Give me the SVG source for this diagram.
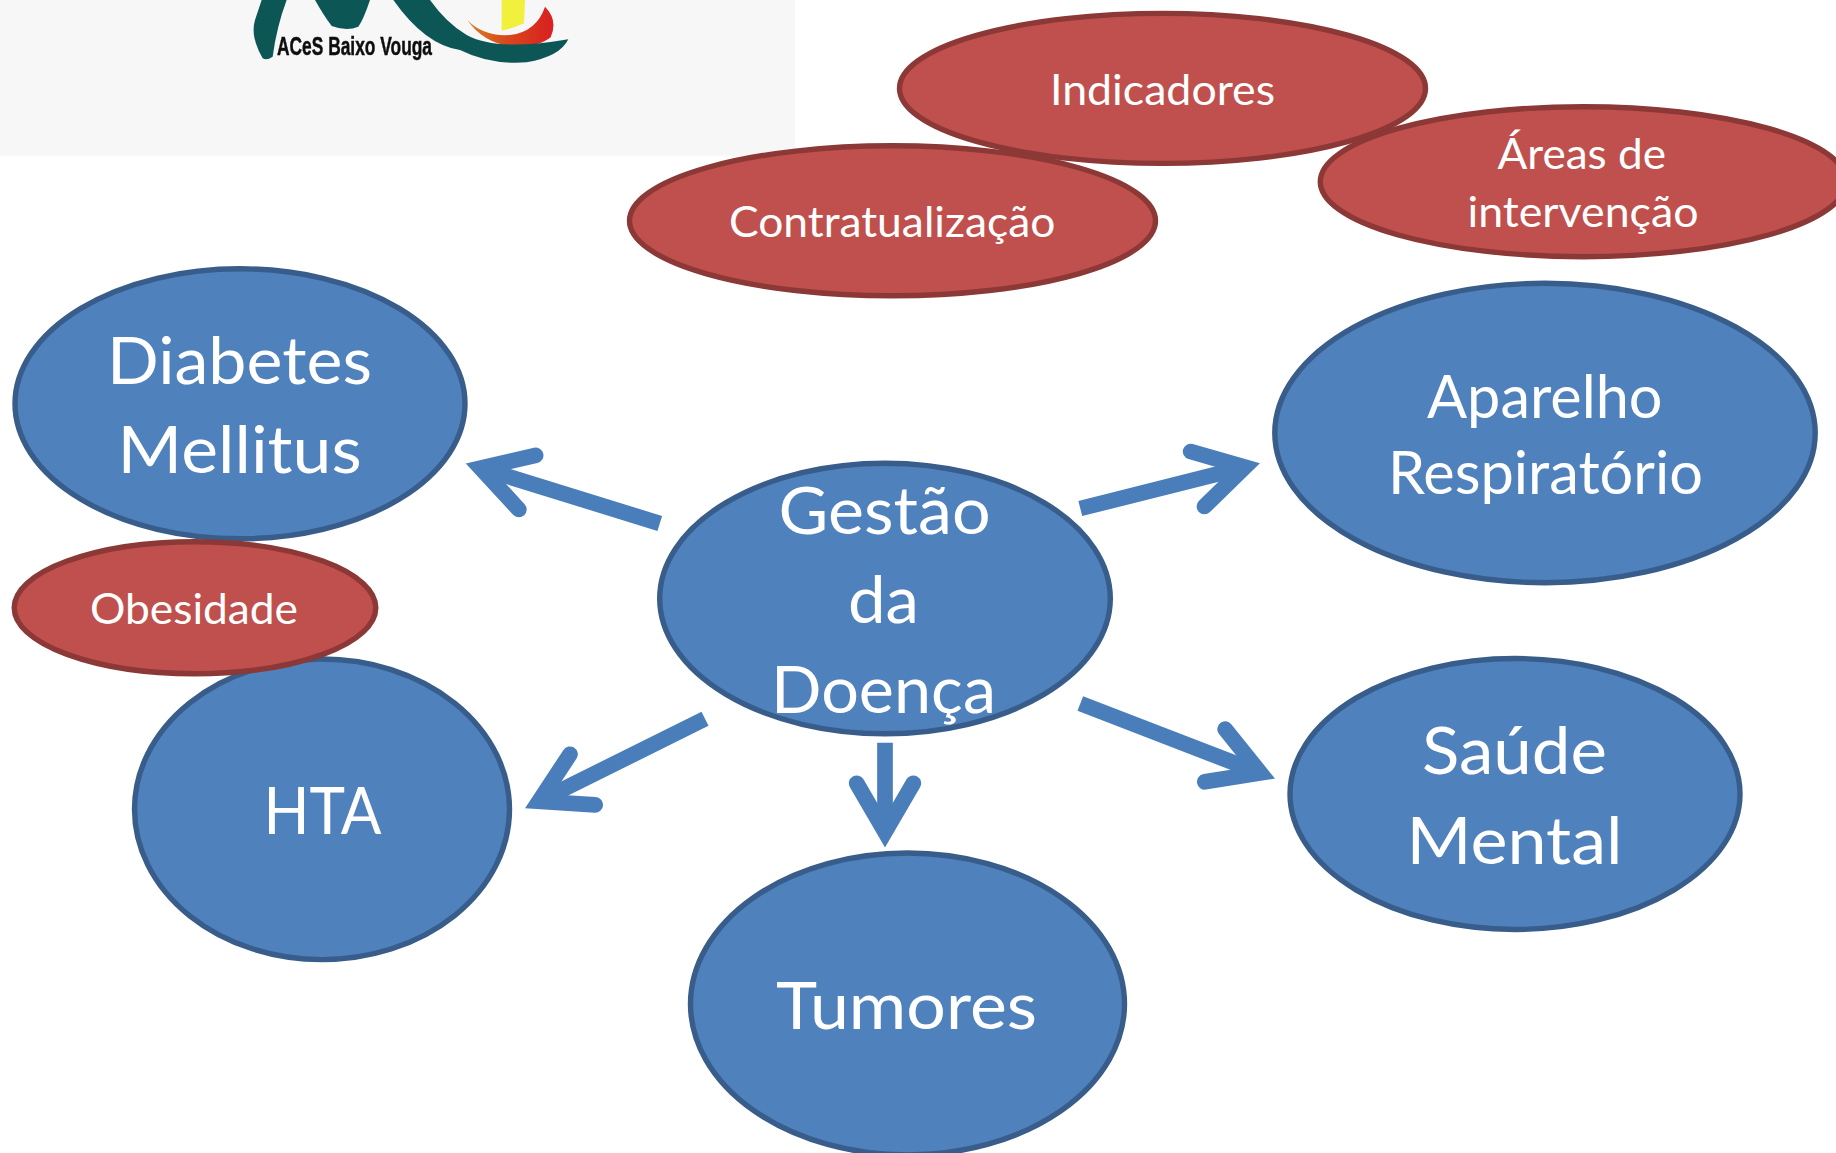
<svg xmlns="http://www.w3.org/2000/svg" width="1836" height="1153" viewBox="0 0 1836 1153">
<style>
text{font-family:Lato,"Open Sans","Liberation Sans",sans-serif;fill:#fff}
.b{fill:#4F81BD;stroke:#385D8A;stroke-width:5.4}
.r{fill:#C0504D;stroke:#8C3836;stroke-width:5.4}
.xl{font-size:66px}.l{font-size:60.5px}.s{font-size:42px}
.c line{stroke:#4A7EBB;stroke-width:15.7;marker-end:url(#open)}
</style>
<defs>
<marker id="open" markerUnits="userSpaceOnUse" markerWidth="80" markerHeight="80" refX="58.3" refY="40" orient="auto">
<polyline points="9.6,11.7 58.3,40 9.6,68.3" fill="none" stroke="#4A7EBB" stroke-width="15.7" stroke-linecap="round" stroke-linejoin="miter" stroke-miterlimit="10"/>
</marker>
<linearGradient id="cres" x1="0" x2="1" y1="0" y2="0"><stop offset="0" stop-color="#D9801F"/><stop offset=".45" stop-color="#D8481E"/><stop offset="1" stop-color="#D92020"/></linearGradient>
<filter id="soft" x="-5%" y="-20%" width="110%" height="140%"><feGaussianBlur stdDeviation="0.7"/></filter>
</defs>
<rect width="1836" height="1153" fill="#fff"/>
<g id="logo">
<rect width="795" height="155.7" fill="#F7F7F7"/>
<g transform="translate(230 0) scale(.33333)" filter="url(#soft)">
<path fill="#F0F03C" d="M815 0H885L882 70Q850 85 815 92Z"/>
<path fill="url(#cres)" d="M712 60Q760 110 840 105Q920 95 945 20Q985 60 962 112Q930 140 850 140Q760 130 712 60Z"/>
<path fill="#0D5757" d="M95 0H170Q140 80 128 170Q110 182 98 175Q60 110 75 60Z"/>
<path fill="#0D5757" d="M255 0H420Q400 60 385 80Q350 95 305 78Q280 45 255 0Z"/>
<path fill="#0D5757" d="M490 0H600Q650 70 710 105Q800 155 1015 118Q990 170 890 187Q780 195 690 150Q585 135 490 0Z"/>
</g>
<text x="277" y="55" textLength="155" lengthAdjust="spacingAndGlyphs" filter="url(#soft)" stroke="#111" stroke-width=".5" style="font-family:'Liberation Sans',sans-serif;font-size:26px;font-weight:bold;fill:#111">ACeS Baixo Vouga</text>
</g>
<g id="indicadores"><ellipse class="r" cx="1162.5" cy="88.4" rx="263" ry="75"/><text class="s" x="1050" y="104.5" textLength="225" lengthAdjust="spacingAndGlyphs">Indicadores</text></g>
<g id="contratualizacao"><ellipse class="r" cx="892.5" cy="220.8" rx="263" ry="75"/><text class="s" x="729" y="236.5" textLength="326.5" lengthAdjust="spacingAndGlyphs">Contratualização</text></g>
<g id="areas"><ellipse class="r" cx="1583.3" cy="181.7" rx="263" ry="75"/><text class="s" x="1497.5" y="169.3" textLength="168.5" lengthAdjust="spacingAndGlyphs">Áreas de</text><text class="s" x="1467.5" y="226.7" textLength="231" lengthAdjust="spacingAndGlyphs">intervenção</text></g>
<g id="diabetes"><ellipse class="b" cx="240" cy="403.8" rx="225" ry="135"/><text class="xl" x="107" y="383.5" textLength="265" lengthAdjust="spacingAndGlyphs">Diabetes</text><text class="xl" x="117.6" y="472.5" textLength="244" lengthAdjust="spacingAndGlyphs">Mellitus</text></g>
<g id="hta"><ellipse class="b" cx="322" cy="809.3" rx="187.5" ry="150.3"/><text class="xl" x="263.5" y="833.5" textLength="118" lengthAdjust="spacingAndGlyphs">HTA</text></g>
<g id="obesidade"><ellipse class="r" cx="195" cy="607.7" rx="180.8" ry="66"/><text class="s" x="90" y="624.3" textLength="208" lengthAdjust="spacingAndGlyphs">Obesidade</text></g>
<g id="gestao"><ellipse class="b" cx="885" cy="598.5" rx="225.3" ry="135.3"/><text class="xl" x="778.6" y="534" textLength="212" lengthAdjust="spacingAndGlyphs">Gestão</text><text class="xl" x="848" y="623.3" textLength="71" lengthAdjust="spacingAndGlyphs">da</text><text class="xl" x="771" y="713.3" textLength="225" lengthAdjust="spacingAndGlyphs">Doença</text></g>
<g id="aparelho"><ellipse class="b" cx="1545" cy="433" rx="270.2" ry="149.7"/><text class="l" x="1427" y="417.5" textLength="235.5" lengthAdjust="spacingAndGlyphs">Aparelho</text><text class="l" x="1388" y="494" textLength="315" lengthAdjust="spacingAndGlyphs">Respiratório</text></g>
<g id="saude"><ellipse class="b" cx="1515" cy="794" rx="225" ry="135.5"/><text class="xl" x="1422" y="773.5" textLength="185" lengthAdjust="spacingAndGlyphs">Saúde</text><text class="xl" x="1406.5" y="863.5" textLength="216" lengthAdjust="spacingAndGlyphs">Mental</text></g>
<g id="tumores"><ellipse class="b" cx="907.5" cy="1004" rx="217" ry="151"/><text class="xl" x="776" y="1028.5" textLength="261" lengthAdjust="spacingAndGlyphs">Tumores</text></g>
<g id="connectors" class="c">
<line x1="659.8" y1="523.5" x2="480.7" y2="468"/>
<line x1="1080.3" y1="508.5" x2="1244.8" y2="467.1"/>
<line x1="705" y1="718.7" x2="539" y2="801.3"/>
<line x1="1080.3" y1="703.5" x2="1260.4" y2="773"/>
<line x1="885" y1="742.7" x2="885" y2="832"/>
</g>
</svg>
